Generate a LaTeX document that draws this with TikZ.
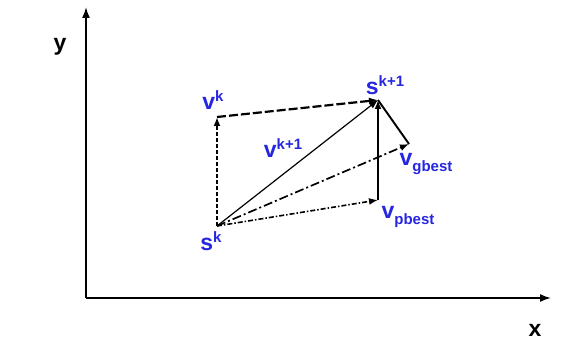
\documentclass[tikz,border=0pt]{standalone}
\usepackage{fontspec}
\setmainfont{Liberation Sans}
\usetikzlibrary{arrows.meta}
\definecolor{lblue}{RGB}{38,38,225}
\newcommand{\mysup}[1]{\raisebox{0.36em}{\fontsize{15}{17}\selectfont #1}}
\newcommand{\mysub}[1]{\raisebox{-0.22em}{\fontsize{15}{17}\selectfont #1}}
\tikzset{
  lbl/.style={text=lblue,font=\fontsize{23}{26}\selectfont\bfseries,inner sep=0pt},
  axlbl/.style={text=black,font=\fontsize{23}{26}\selectfont\bfseries,inner sep=0pt},
  tip/.style={-{Latex[length=9pt,width=7pt]}},
  axis/.style={line width=1.7pt,-{Latex[length=11pt,width=8pt]}},
}
\begin{document}
\begin{tikzpicture}[x=1pt,y=-1pt]
\useasboundingbox (0,0) rectangle (563,345);
% axes
\coordinate (O) at (86,298);
\coordinate (Ytop) at (86,7);
\coordinate (Xend) at (551,298);
\draw[axis] (O) -- (Ytop);
\draw[axis] (O) -- (Xend);
\node[axlbl] (ylab) at (60,47) {y};
\node[axlbl] (xlab) at (535,330) {x};
% points
\coordinate (sk) at (217,226);
\coordinate (vk) at (217,117);
\coordinate (sk1) at (378,100);
\coordinate (vg) at (409,144);
\coordinate (vp) at (378,200);
% vectors
\draw[tip,line width=2pt,dash pattern=on 4pt off 2pt] (sk) -- (vk);
\draw[tip,line width=2.2pt,dash pattern=on 9pt off 3pt] (vk) -- (sk1);
\draw[tip,line width=1.2pt] (sk) -- (sk1);
\draw[tip,line width=1.7pt,dash pattern=on 9pt off 3pt on 2pt off 3pt] (sk) -- (vg);
\draw[tip,line width=1.6pt,dash pattern=on 5pt off 2pt on 1.5pt off 2pt] (sk) -- (vp);
\draw[tip,line width=2pt] (vp) -- (sk1);
\draw[line width=1.9pt] (sk1) -- (vg);
% labels
\node[lbl] (lvk) at (213,100) {v\mysup{k}};
\node[lbl] (lsk) at (211,241) {s\mysup{k}};
\node[lbl] (lsk1) at (385,85) {s\mysup{k+1}};
\node[lbl] (lvk1) at (283,148) {v\mysup{k+1}};
\node[lbl] (lvg) at (426,164) {v\mysub{gbest}};
\node[lbl] (lvp) at (408,217) {v\mysub{pbest}};
\end{tikzpicture}
\end{document}
